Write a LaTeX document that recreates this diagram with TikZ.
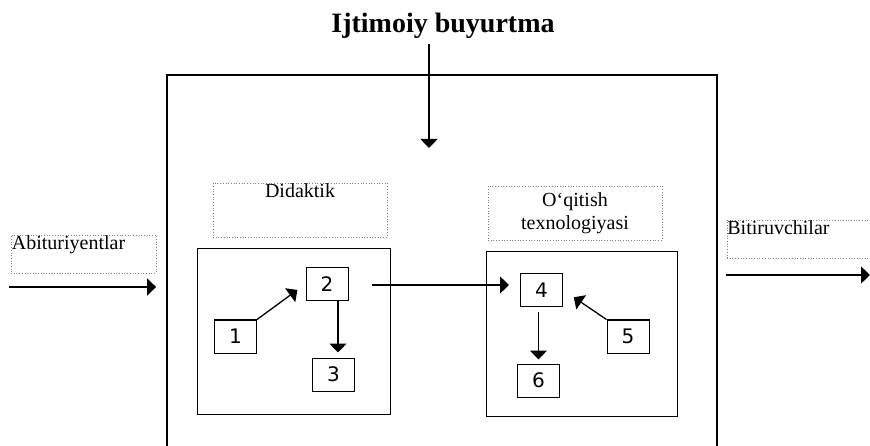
\documentclass[tikz,border=0pt]{standalone}
\usepackage{fontspec}
\setmainfont{Liberation Serif}
\newfontfamily\digitfont{DejaVu Sans}
\usetikzlibrary{arrows.meta}

\begin{document}
\begin{tikzpicture}
[x=1pt,y=-1pt,%
  every node/.style={inner sep=0pt},%
  frame/.style={draw,line width=1.8pt},%
  block/.style={draw,line width=1pt},%
  cell/.style={draw,line width=1pt,minimum width=42pt,minimum height=33pt,%
    font=\digitfont\fontsize{20}{20}\selectfont},%
  caption/.style={draw=gray,dotted,line width=0.7pt},%
  flow/.style={-{Triangle[length=9pt,width=17pt]},line width=1.3pt}]
\fontsize{20}{23}\selectfont
\useasboundingbox (0,0) rectangle (870,446);
\clip (0,0) rectangle (870,446);
\node[font=\bfseries\fontsize{28}{30}\selectfont,anchor=base] (title) at (443,33) {Ijtimoiy buyurtma};
\node[frame,minimum width=550pt,minimum height=395pt] (system) at (442,272.5) {};
\coordinate (order) at (429,148);
\draw[flow,shorten <=5pt] (title.south -| order) -- (order);
% left part
\node[caption,minimum width=174pt,minimum height=54pt,%
  label={[anchor=north,inner sep=0.5pt]north:Didaktik}] (didactic) at (300,210) {};
\node[block,minimum width=193pt,minimum height=165pt] (leftpart) at (293.5,331.5) {};
\node[cell] (n1) at (235.5,336.5) {1};
\node[cell] (n2) at (327,284) {2};
\node[cell] (n3) at (333.5,374.5) {3};
\draw[flow,shorten >=10pt] (n1.north east) -- (n2.west);
\draw[flow,shorten >=5pt] ([xshift=11pt]n2.south) -- ([xshift=4.5pt]n3.north);
% right part
\node[caption,minimum width=174pt,minimum height=54pt,align=center] (technology) at (575,213) {O‘qitish\\texnologiyasi};
\node[block,minimum width=191pt,minimum height=164pt] (rightpart) at (581.5,334) {};
\node[cell] (n4) at (541.5,290) {4};
\node[cell] (n5) at (628,336.5) {5};
\node[cell] (n6) at (538.5,380.5) {6};
\draw[flow,shorten <=5pt,shorten >=4pt] (n4.south -| n6.north) -- (n6.north);
\draw[flow,shorten >=13pt] (n5.north west) -- (n4.east);
\coordinate (link) at (372,285);
\draw[flow,shorten >=11pt] (link) -- (link -| n4.west);
% input and output
\node[caption,minimum width=145pt,minimum height=38pt,%
  label={[anchor=north west,inner sep=1pt]north west:Abituriyentlar}] (entrants) at (83.5,254) {};
\coordinate (inflow) at (9,287);
\draw[flow,shorten >=10pt] (inflow) -- (inflow -| system.west);
\node[caption,minimum width=150pt,minimum height=38pt,%
  label={[anchor=north west,inner sep=0.5pt]north west:Bitiruvchilar}] (graduates) at (802,239) {};
\coordinate (outflow) at (870,275);
\draw[flow] ([xshift=8pt]outflow -| system.east) -- (outflow);
\end{tikzpicture}
\end{document}
